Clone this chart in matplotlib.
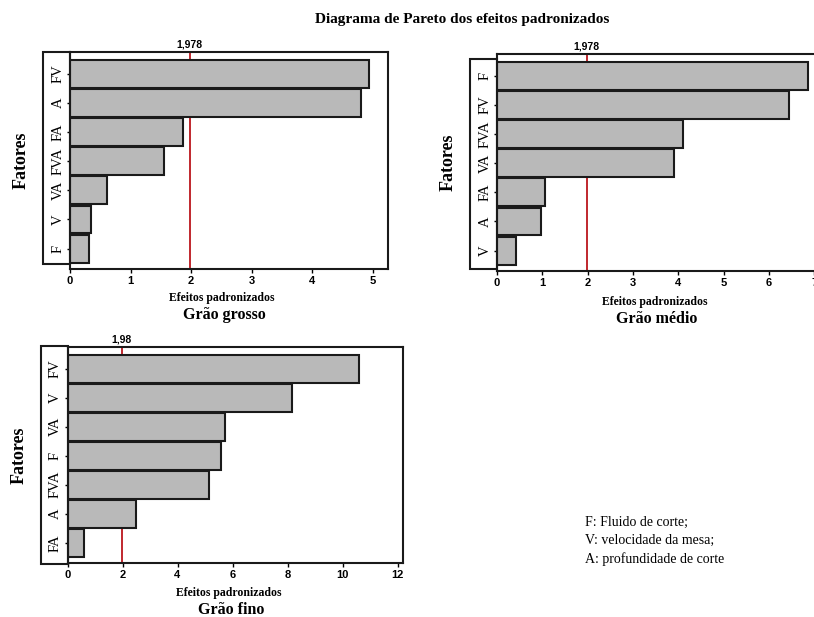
import matplotlib
matplotlib.use('Agg')
import matplotlib.pyplot as plt
from matplotlib.patches import Rectangle

# data (top bar first)
grosso_fatores = ['FV', 'A', 'FA', 'FVA', 'VA', 'V', 'F']
grosso_efeitos = [4.93, 4.81, 1.87, 1.56, 0.61, 0.35, 0.31]

medio_fatores = ['F', 'FV', 'FVA', 'VA', 'FA', 'A', 'V']
medio_efeitos = [6.86, 6.43, 4.11, 3.91, 1.06, 0.98, 0.43]

fino_fatores = ['FV', 'V', 'VA', 'F', 'FVA', 'A', 'FA']
fino_efeitos = [10.6, 8.15, 5.72, 5.59, 5.13, 2.50, 0.61]

limites = [1.978, 1.978, 1.98]
rotulos_limite = ['1,978', '1,978', '1,98']
subtitulos = ['Grão grosso', 'Grão médio', 'Grão fino']
legenda = ['F: Fluido de corte;', 'V: velocidade da mesa;', 'A: profundidade de corte']

W, H = 814, 617
SERIF = ['Liberation Serif', 'DejaVu Serif']
SANS = ['Liberation Sans', 'DejaVu Sans']


def fx(x):
    return x / W


def fy(y):
    return 1 - y / H


def pareto(fig, box, lbl_box, fatores, efeitos, xmax, ticks, lim, lim_txt, sub, txt_x, txt_y):
    left, top, right, bottom = box
    ax = fig.add_axes([fx(left), fy(bottom), (right - left) / W, (bottom - top) / H])
    pos = list(range(len(fatores)))
    ax.barh(pos, efeitos, height=0.96, color='#b9b9b9', edgecolor='#1a1a1a',
            linewidth=1.5, zorder=3)
    ax.axvline(lim, color='#c0272d', linewidth=1.4, zorder=1)
    ax.set_ylim(len(fatores) - 0.5 + 0.2, -0.5 - 0.25)
    ax.set_xlim(0, xmax)
    ax.set_xticks(ticks)
    ax.set_xticklabels([str(t) for t in ticks], family=SANS, fontweight='bold', fontsize=8)
    ax.set_yticks(pos)
    ax.set_yticklabels(fatores, family=SERIF, fontsize=10.5, rotation=90, va='center')
    ax.tick_params(axis='x', length=3, width=1, pad=2)
    ax.tick_params(axis='y', length=2.5, width=1, pad=1.5)
    for s in ax.spines.values():
        s.set_linewidth(1.5)
        s.set_color('#1a1a1a')
    ax.text(lim, 1.01, lim_txt, transform=ax.get_xaxis_transform(), ha='center', va='bottom',
            family=SANS, fontweight='bold', fontsize=7.5)
    # moldura dos rotulos dos fatores
    bl, bt, br, bb = lbl_box
    fig.patches.append(Rectangle((fx(bl), fy(bb)), (br - bl) / W, (bb - bt) / H,
                                 transform=fig.transFigure, fill=False,
                                 edgecolor='#1a1a1a', linewidth=1.5))
    fig.text(fx(bl - 22), fy((top + bottom) / 2), 'Fatores', rotation=90, ha='center',
             va='center', family=SERIF, fontweight='bold', fontsize=13)
    fig.text(fx(txt_x), fy(txt_y), 'Efeitos padronizados', ha='center', va='center',
             family=SERIF, fontweight='bold', fontsize=8.5)
    fig.text(fx(txt_x + 2), fy(txt_y + 17), sub, ha='center', va='center',
             family=SERIF, fontweight='bold', fontsize=11.5)
    return ax


fig = plt.figure(figsize=(W / 100, H / 100), dpi=100)
fig.patch.set_facecolor('white')

fig.text(fx(462), fy(19), 'Diagrama de Pareto dos efeitos padronizados', ha='center',
         va='center', family=SERIF, fontweight='bold', fontsize=11)

pareto(fig, (70, 52, 388, 269), (43, 52, 70, 264), grosso_fatores, grosso_efeitos,
       5.25, [0, 1, 2, 3, 4, 5], limites[0], rotulos_limite[0], subtitulos[0], 222, 298)
pareto(fig, (497, 54, 828, 271), (470, 59, 497, 269), medio_fatores, medio_efeitos,
       7.3, [0, 1, 2, 3, 4, 5, 6, 7], limites[1], rotulos_limite[1], subtitulos[1], 655, 302)
pareto(fig, (67.5, 347, 403, 563), (41, 346, 67.5, 564), fino_fatores, fino_efeitos,
       12.2, [0, 2, 4, 6, 8, 10, 12], limites[2], rotulos_limite[2], subtitulos[2], 229, 593)

for i, linha in enumerate(legenda):
    fig.text(fx(585), fy(522 + i * 18.5), linha, ha='left', va='center',
             family=SERIF, fontsize=10)

fig.savefig('out.png', dpi=100, facecolor='white')
